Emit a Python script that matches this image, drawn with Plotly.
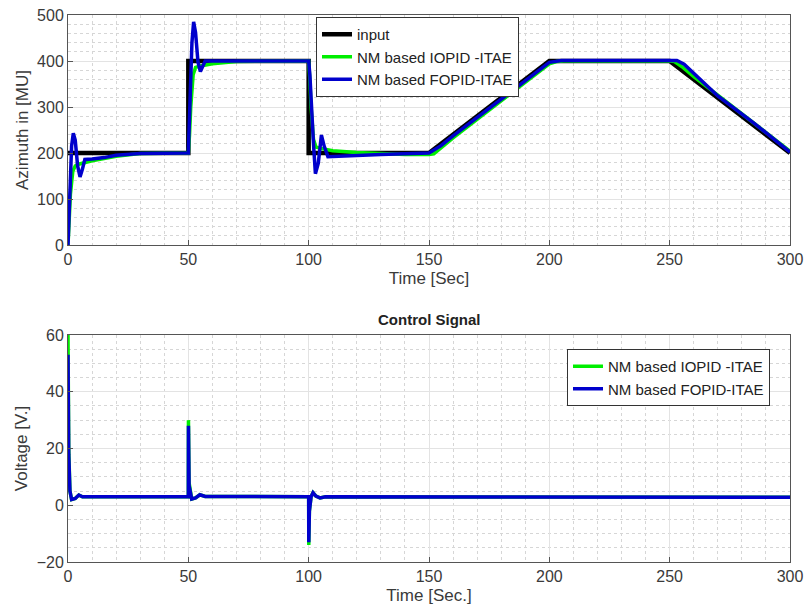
import plotly.graph_objects as go

# ---------------- data ----------------
# Top: azimuth response
t_input = [0, 50, 50, 100, 100, 150, 200, 250, 300]
v_input = [200, 200, 400, 400, 200, 200, 400, 400, 200]

t_iopid = [0, 0.5, 1, 2, 3, 4, 6, 10, 15, 20, 30, 50, 50.5, 51, 52, 53, 55, 60, 70,
           100, 100.5, 101, 102, 103, 105, 110, 120, 130, 140, 150, 152, 160, 170, 180,
           190, 200, 203, 206, 250, 252, 255, 260, 270, 280, 290, 300]
v_iopid = [0, 60, 110, 160, 172, 175, 178, 183, 188, 193, 199, 200, 240, 300, 370, 386, 389, 394, 399,
           400, 360, 300, 230, 213, 210, 205, 201, 199, 197, 197, 198, 233, 273, 313, 353,
           394, 399, 400, 400, 399, 388, 366, 326, 286, 246, 204]

t_fopid = [0, 0.5, 1, 1.5, 2.2, 3, 4, 5, 6, 7, 10, 15, 20, 30, 50, 50.5, 51, 51.5, 52.2, 53,
           54, 55, 56, 57, 60, 70, 100, 100.5, 101, 102, 102.8, 104, 105.3, 106.5, 108, 115,
           130, 150, 155, 160, 180, 200, 205, 250, 253, 256, 270, 285, 300]
v_fopid = [0, 70, 150, 215, 243, 228, 172, 148, 165, 186, 187, 190, 195, 199, 200, 260, 360, 440, 485, 462,
           398, 377, 391, 400, 400, 400, 400, 370, 310, 220, 155, 178, 239, 214, 192, 194,
           197, 200, 216, 237, 317, 397, 401, 402, 401, 393, 324, 265, 202]

# Bottom: control signal
t_u_iopid = [0, 0.3, 0.8, 1.5, 3, 4.5, 6, 10, 50, 50.05, 50.3, 51.4, 53, 54.8, 57,
             100, 100.05, 100.3, 101, 101.8, 103, 104.7, 107, 150, 200, 250, 300]
u_iopid = [60, 20, 5, 2, 2.4, 3.6, 3, 3, 3, 30, 8, 2.2, 2.6, 3.7, 3.1,
           3, -14, -2, 3, 4.4, 3.2, 2.6, 3, 3, 3.1, 3.1, 2.8]

t_u_fopid = [0, 0.3, 0.8, 1.5, 3, 4.5, 6, 10, 50, 50.05, 50.3, 51.4, 53, 54.8, 57,
             100, 100.05, 100.3, 101, 101.8, 103, 104.7, 107, 150, 200, 250, 300]
u_fopid = [53, 18, 5, 2, 2.4, 3.6, 3, 3, 3, 28, 7, 2.2, 2.6, 3.7, 3.1,
           3, -13, -2, 3, 4.4, 3.2, 2.6, 3, 3, 3.1, 3.1, 2.8]

names = ["input", "NM based IOPID -ITAE", "NM based FOPID-ITAE"]
colors = ["#000000", "#00ee00", "#0000cc"]

# ---------------- figure ----------------
fig = go.Figure()
fig.add_trace(go.Scatter(x=t_input, y=v_input, mode="lines", name=names[0],
                         line=dict(color=colors[0], width=4.5), xaxis="x", yaxis="y", legend="legend"))
fig.add_trace(go.Scatter(x=t_iopid, y=v_iopid, mode="lines", name=names[1],
                         line=dict(color=colors[1], width=3.5), xaxis="x", yaxis="y", legend="legend"))
fig.add_trace(go.Scatter(x=t_fopid, y=v_fopid, mode="lines", name=names[2],
                         line=dict(color=colors[2], width=3.5), xaxis="x", yaxis="y", legend="legend"))
fig.add_trace(go.Scatter(x=t_u_iopid, y=u_iopid, mode="lines", name=names[1],
                         line=dict(color=colors[1], width=3.5), xaxis="x2", yaxis="y2", legend="legend2"))
fig.add_trace(go.Scatter(x=t_u_fopid, y=u_fopid, mode="lines", name=names[2],
                         line=dict(color=colors[2], width=3.5), xaxis="x2", yaxis="y2", legend="legend2"))

FONT = "Liberation Sans, Arial, sans-serif"
TXT = "#3a3a3a"
axis_common = dict(
    showline=True, mirror=True, linecolor="#555555", linewidth=1,
    ticks="inside", ticklen=5, tickcolor="#555555",
    showgrid=True, gridcolor="#e3e3e3", gridwidth=1, automargin=False,
    zeroline=False, tickfont=dict(size=16, color=TXT, family=FONT),
)
W, H = 808, 615
L, R, T, B = 68, 18, 15, 53
PW, PH = W - L - R, H - T - B


def px(xp):
    return (xp - L) / PW


def py(yp):
    return (H - B - yp) / PH


minor_x = dict(dtick=10, showgrid=True, gridcolor="#d6d6d6", griddash="dot", ticks="")

fig.update_layout(
    width=W, height=H, margin=dict(l=L, r=R, t=T, b=B, autoexpand=False),
    paper_bgcolor="white", plot_bgcolor="white",
    font=dict(family=FONT, color=TXT),
    xaxis=dict(domain=[0, 1], range=[0, 300], dtick=50, anchor="y", minor=minor_x,
               title=dict(text="Time [Sec]", font=dict(size=17, color=TXT), standoff=4),
               **axis_common),
    yaxis=dict(domain=[py(245), 1], range=[0, 500], dtick=100, anchor="x",
               minor=dict(dtick=20, showgrid=True, gridcolor="#d6d6d6", griddash="dot", ticks=""),
               title=dict(text="Azimuth in [MU]", font=dict(size=17, color=TXT), standoff=4),
               **axis_common),
    xaxis2=dict(domain=[0, 1], range=[0, 300], dtick=50, anchor="y2", minor=minor_x,
                title=dict(text="Time [Sec.]", font=dict(size=17, color=TXT), standoff=4),
                **axis_common),
    yaxis2=dict(domain=[0, py(335)], range=[-20, 60], dtick=20, anchor="x2",
                minor=dict(dtick=5, showgrid=True, gridcolor="#d6d6d6", griddash="dot", ticks=""),
                title=dict(text="Voltage [V.]", font=dict(size=17, color=TXT), standoff=4),
                **axis_common),
    legend=dict(x=px(316), y=py(17), xanchor="left", yanchor="top",
                bgcolor="white", bordercolor="#333333", borderwidth=1,
                font=dict(size=15, color="#222222", family=FONT), tracegroupgap=0),
    legend2=dict(x=px(567), y=py(349), xanchor="left", yanchor="top",
                 bgcolor="white", bordercolor="#333333", borderwidth=1,
                 font=dict(size=15, color="#222222", family=FONT), tracegroupgap=0),
    annotations=[dict(text="<b>Control Signal</b>", x=0.5, y=py(320),
                      xref="paper", yref="paper", showarrow=False, yanchor="middle",
                      font=dict(size=15, color="#222222", family=FONT))],
    showlegend=True,
)

fig.write_html("out.html")
